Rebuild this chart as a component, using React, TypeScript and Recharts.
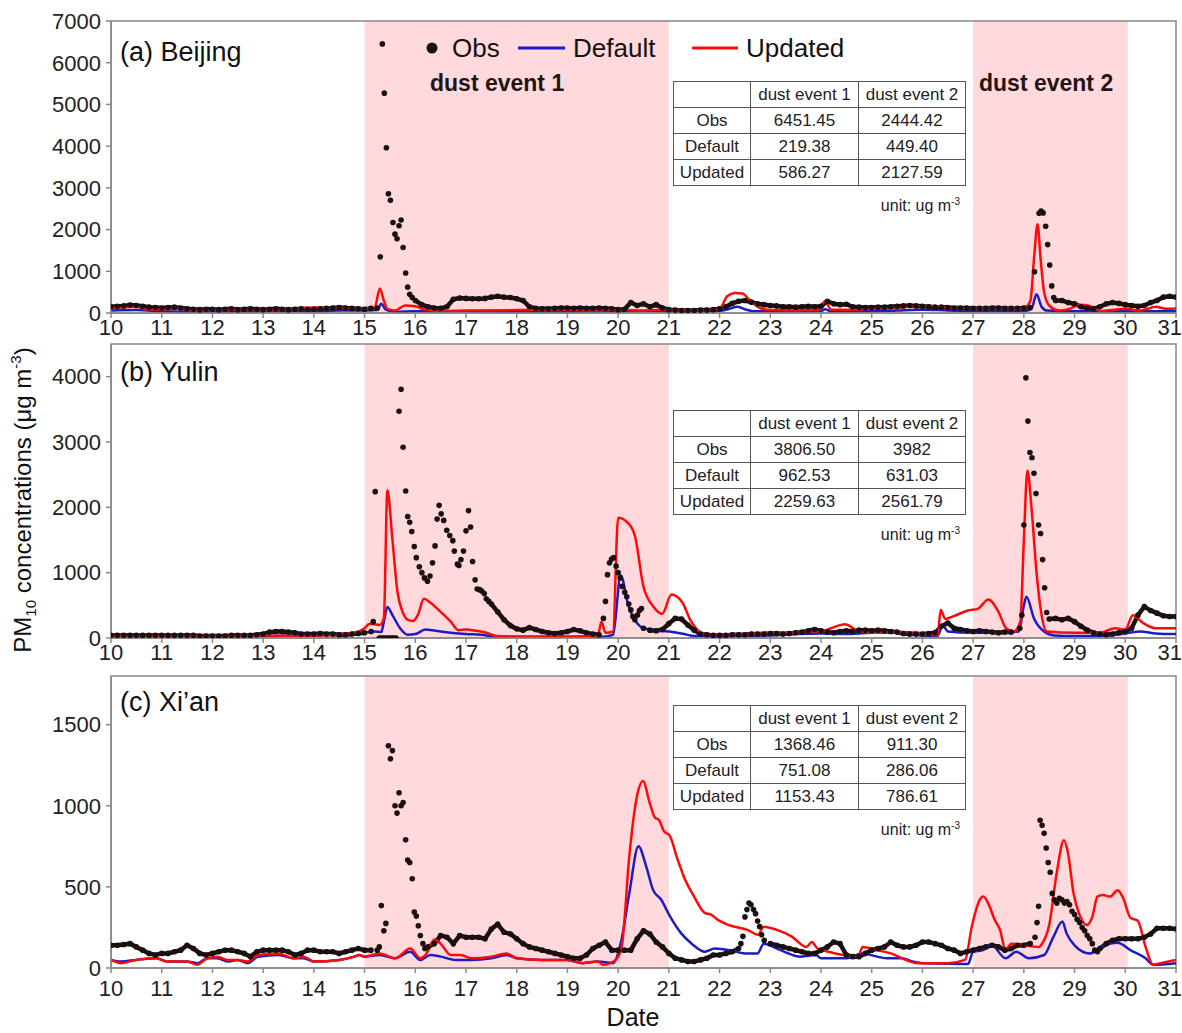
import React from "react";
import { ComposedChart, Line, Scatter, XAxis, YAxis, ReferenceArea } from "recharts";

type Pt = [number, number];

const days = [10, 11, 12, 13, 14, 15, 16, 17, 18, 19, 20, 21, 22, 23, 24, 25, 26, 27, 28, 29, 30, 31];
const eventCols = ["dust event 1", "dust event 2"];

// ---- (a) Beijing ----
// obs sampled every 3 h from day 10 (null where the hourly peak list takes over)
const bjObsBase: (number | null)[] = [
  150, 160, 170, 190, 180, 160, 140, 130,
  120, 130, 140, 120, 100, 90, 80, 90,
  90, 80, 90, 100, 80, 90, 100, 90,
  80, 90, 100, 90, 80, 90, 100, 90,
  90, 100, 110, 120, 130, 120, 110, 100,
  90, 110, null, null, null, null, null, null,
  300, 200, 150, 120, 110, 150, 330, 360,
  350, 340, 340, 350, 380, 400, 380, 370,
  340, 300, 150, 110, 100, 100, 110, 120,
  120, 110, 120, 110, 110, 120, 110, 100,
  80, 90, 250, 180, 220, 150, 200, 120,
  80, 70, 60, 60, 60, 70, 70, 80,
  100, 150, 230, 280, 300, 260, 220, 200,
  180, 170, 150, 150, 140, 150, 160, 150,
  160, 280, 220, 200, 210, 150, 140, 130,
  130, 140, 140, 150, 160, 170, 180, 170,
  160, 150, 140, 140, 130, 120, 120, 120,
  110, 110, 110, 120, 120, 110, 110, 110,
  120, 130, null, null, null, 300, 300, 250,
  220, 150, 120, 100, 150, 220, 250, 230,
  200, 180, 160, 180, 250, 300, 380, 400,
  380,
];
const bjObsPeak: Pt[] = [
  [15.25, 120], [15.31, 1346], [15.35, 6451], [15.39, 5270], [15.43, 3960], [15.47, 2860], [15.51, 2700],
  [15.56, 2170], [15.6, 1890], [15.64, 1780], [15.68, 2090], [15.72, 2230], [15.76, 1570], [15.81, 960],
  [15.85, 620], [15.89, 450], [15.94, 370],
  [28.21, 990], [28.3, 2390], [28.34, 2444], [28.38, 2400], [28.43, 2080], [28.47, 1640], [28.51, 1150],
  [28.55, 650], [28.59, 370],
];
const bjDefault: Pt[] = [
  [10, 60], [10.5, 70], [11, 40], [11.5, 30], [12, 30], [13, 40], [14, 40], [14.5, 60], [15, 60], [15.25, 70],
  [15.33, 219], [15.42, 80], [15.6, 30], [16, 40], [17, 40], [18, 30], [19, 30], [20, 40], [20.5, 50], [21, 40],
  [22, 50], [22.2, 100], [22.35, 150], [22.5, 90], [22.7, 40], [23, 40], [23.5, 40], [24, 50], [24.08, 90],
  [24.2, 40], [25, 40], [25.5, 60], [26, 80], [26.5, 60], [27, 50], [28, 50], [28.15, 100], [28.25, 449],
  [28.35, 150], [28.45, 60], [29, 40], [30, 40], [30.5, 40], [31, 40],
];
const bjUpdated: Pt[] = [
  [10, 140], [10.25, 140], [10.5, 150], [10.7, 90], [11, 80], [11.4, 110], [11.6, 60], [12, 70], [12.5, 80],
  [13, 70], [13.5, 80], [14, 130], [14.5, 120], [15, 110], [15.2, 130], [15.3, 586], [15.38, 300], [15.45, 100],
  [15.6, 60], [15.8, 180], [16, 160], [16.2, 80], [16.5, 50], [17, 60], [18, 70], [19, 70], [19.5, 60], [20, 70],
  [20.5, 60], [21, 80], [21.5, 60], [22, 100], [22.15, 400], [22.3, 480], [22.45, 470], [22.6, 300], [22.8, 120],
  [23, 70], [23.5, 60], [23.95, 70], [24.08, 280], [24.2, 80], [24.5, 80], [25, 100], [25.5, 120], [25.9, 170],
  [26.3, 160], [26.5, 120], [27, 110], [27.5, 110], [28, 110], [28.13, 300], [28.2, 1300], [28.27, 2128],
  [28.33, 1300], [28.4, 500], [28.5, 180], [28.7, 60], [28.9, 100], [29.1, 200], [29.3, 170], [29.5, 50],
  [29.8, 80], [30, 100], [30.3, 60], [30.6, 150], [30.8, 100], [31, 110],
];
const bjTable = [
  ["Obs", "6451.45", "2444.42"],
  ["Default", "219.38", "449.40"],
  ["Updated", "586.27", "2127.59"],
];

// ---- (b) Yulin ----
const ylObsBase: (number | null)[] = [
  40, 40, 40, 40, 40, 40, 40, 40,
  40, 40, 40, 40, 40, 40, 30, 30,
  30, 30, 30, 40, 40, 40, 40, 50,
  60, 90, 100, 100, 90, 80, 60, 60,
  60, 70, 60, 60, 50, 50, 60, 70,
  80, null, null, null, null, null, null, null,
  null, null, null, null, null, null, null, null,
  null, null, null, null, 520, 400, 280, 190,
  140, 120, 160, 130, 100, 80, 70, 80,
  100, 130, 110, 80, 60, 50, null, null,
  null, null, null, null, null, 120, 110, 130,
  220, 300, 290, 200, 120, 60, 50, 40,
  40, 40, 50, 50, 50, 60, 60, 60,
  70, 70, 60, 70, 80, 90, 110, 130,
  110, 90, 80, 100, 110, 100, 120, 120,
  110, 120, 110, 100, 90, 70, 60, 60,
  60, 70, 80, 180, 230, 150, 130, 110,
  100, 110, 100, 90, 80, 90, 90, null,
  null, null, null, null, 290, 300, 280, 300,
  250, 180, 120, 80, 60, 50, 60, 80,
  100, 150, 350, 480, 420, 380, 340, 330,
  330,
];
const ylObsPeak: Pt[] = [
  [15.13, 100], [15.17, 250], [15.21, 2240], [15.29, 0], [15.33, 0], [15.37, 0], [15.42, 0], [15.46, 0],
  [15.5, 0], [15.54, 0], [15.58, 0], [15.62, 0], [15.68, 3470], [15.72, 3807], [15.76, 2920], [15.81, 2250],
  [15.85, 1860], [15.89, 1770], [15.93, 1630], [15.98, 1400], [16.02, 1230], [16.08, 1090], [16.13, 1000],
  [16.18, 920], [16.24, 870], [16.29, 950], [16.34, 1150], [16.39, 1410], [16.43, 1820], [16.47, 2030],
  [16.51, 1900], [16.56, 1800], [16.62, 1650], [16.68, 1570], [16.74, 1490], [16.77, 1330], [16.83, 1130],
  [16.86, 1110], [16.9, 1200], [16.95, 1330], [17.0, 1640], [17.05, 1950], [17.09, 1700], [17.13, 1170],
  [17.18, 890], [17.22, 750], [17.27, 740], [17.31, 720], [17.36, 680], [17.4, 600], [17.45, 560],
  [19.71, 300], [19.75, 560], [19.79, 970], [19.83, 1150], [19.87, 1210], [19.91, 1230], [19.96, 1100],
  [20.0, 1000], [20.04, 920], [20.08, 790], [20.13, 700], [20.17, 630], [20.21, 520], [20.25, 430],
  [20.29, 330], [20.33, 280], [20.38, 350], [20.42, 420], [20.46, 450], [20.5, 150],
  [27.92, 150], [27.96, 350], [28.0, 1730], [28.04, 3982], [28.08, 3320], [28.12, 2840], [28.16, 2760],
  [28.2, 2520], [28.24, 2210], [28.29, 1730], [28.33, 1600], [28.37, 1200], [28.41, 770], [28.45, 390],
];
const ylDefault: Pt[] = [
  [10, 30], [11, 30], [12, 30], [13, 30], [13.5, 40], [13.7, 80], [13.85, 50], [14.2, 60], [14.5, 60], [15, 80],
  [15.2, 100], [15.33, 90], [15.38, 250], [15.45, 475], [15.55, 350], [15.7, 150], [15.85, 50], [16, 60],
  [16.2, 130], [16.4, 110], [16.7, 80], [17, 60], [17.3, 50], [17.6, 20], [18, 20], [19, 20], [19.7, 20],
  [19.9, 50], [20.05, 962], [20.2, 500], [20.35, 250], [20.5, 150], [20.7, 120], [21, 100], [21.3, 60],
  [21.5, 30], [22, 30], [23, 40], [23.5, 60], [24, 70], [24.5, 60], [25, 80], [25.5, 80], [26, 40], [26.3, 30],
  [26.4, 200], [26.5, 100], [27, 80], [27.5, 80], [27.9, 100], [28, 500], [28.05, 631], [28.2, 300],
  [28.4, 100], [28.6, 40], [29, 30], [29.5, 30], [30, 70], [30.3, 100], [30.6, 70], [31, 60],
];
const ylUpdated: Pt[] = [
  [10, 30], [11, 30], [12, 30], [13, 40], [14, 30], [14.8, 80], [15, 150], [15.1, 220], [15.3, 200],
  [15.38, 300], [15.45, 2260], [15.55, 1500], [15.65, 700], [15.75, 400], [15.85, 280], [15.95, 260],
  [16.05, 350], [16.17, 600], [16.3, 540], [16.5, 400], [16.7, 250], [16.85, 120], [17, 130], [17.2, 110],
  [17.4, 80], [17.6, 30], [18, 20], [19, 20], [19.6, 30], [19.67, 250], [19.75, 80], [19.9, 100],
  [20.0, 1840], [20.18, 1770], [20.33, 1565], [20.5, 785], [20.7, 475], [20.87, 370], [21.05, 665],
  [21.27, 540], [21.42, 280], [21.6, 100], [21.78, 50], [22, 50], [22.5, 60], [23, 80], [23.3, 80],
  [23.7, 100], [24, 100], [24.2, 150], [24.47, 210], [24.7, 120], [24.8, 100], [25, 80], [25.5, 90],
  [26, 70], [26.3, 40], [26.36, 430], [26.45, 290], [26.6, 330], [26.9, 420], [27.1, 450], [27.3, 590],
  [27.5, 400], [27.65, 150], [27.8, 100], [27.93, 250], [28.0, 1500], [28.07, 2562], [28.15, 2000],
  [28.25, 1000], [28.35, 350], [28.45, 100], [29, 80], [29.5, 80], [29.8, 150], [30, 130], [30.15, 350],
  [30.35, 230], [30.6, 150], [31, 150],
];
const ylTable = [
  ["Obs", "3806.50", "3982"],
  ["Default", "962.53", "631.03"],
  ["Updated", "2259.63", "2561.79"],
];

// ---- (c) Xi'an ----
const xaObsBase: (number | null)[] = [
  140, 140, 145, 150, 130, 110, 90, 80,
  90, 90, 100, 110, 140, 120, 90, 80,
  90, 100, 110, 110, 100, 90, 70, 100,
  110, 110, 110, 110, 100, 80, 90, 110,
  110, 100, 100, 100, 90, 100, 110, 120,
  110, 110, null, null, null, null, null, null,
  null, null, 130, 150, 200, 190, 150, 200,
  190, 190, 190, 180, 240, 270, 220, 210,
  180, 150, 130, 120, 110, 100, 90, 80,
  70, 60, 60, 80, 120, 140, 160, 110,
  110, 110, 110, 180, 230, 210, 160, 130,
  90, 60, 50, 40, 40, 50, 60, 80,
  80, 90, 100, 120, null, null, null, null,
  150, 140, 130, 120, 110, 100, 90, 90,
  110, 130, 160, 150, 80, 70, 70, 90,
  110, 120, 130, 160, 140, 130, 130, 140,
  160, 160, 150, 140, 120, 110, 90, 100,
  110, 120, 130, 140, 130, 110, 120, 140,
  140, 150, null, null, null, null, null, null,
  null, null, null, null, 120, 150, 170, 180,
  180, 180, 180, 190, 210, 245, 245, 245,
  240,
];
const xaObsPeak: Pt[] = [
  [15.25, 110], [15.29, 130], [15.33, 385], [15.38, 230], [15.42, 275], [15.47, 1370], [15.51, 1290],
  [15.55, 1340], [15.6, 1000], [15.64, 955], [15.68, 1080], [15.72, 1000], [15.76, 1020], [15.81, 790],
  [15.85, 665], [15.89, 650], [15.94, 550], [15.98, 345], [16.02, 320], [16.06, 260], [16.1, 200],
  [16.15, 150], [16.19, 120],
  [22.42, 150], [22.46, 195], [22.5, 315], [22.54, 360], [22.58, 400], [22.62, 390], [22.67, 360],
  [22.71, 335], [22.75, 290], [22.79, 255], [22.83, 205], [22.88, 170],
  [28.22, 190], [28.26, 280], [28.29, 380], [28.32, 911], [28.36, 880], [28.4, 830], [28.44, 740],
  [28.48, 650], [28.52, 590], [28.56, 460], [28.6, 420], [28.65, 400], [28.7, 430], [28.75, 420],
  [28.8, 400], [28.85, 410], [28.9, 390], [28.95, 350], [29.0, 330], [29.05, 300], [29.1, 280],
  [29.15, 250], [29.2, 230], [29.25, 200], [29.3, 180], [29.35, 150], [29.4, 110], [29.45, 100],
];
const xaDefault: Pt[] = [
  [10, 50], [10.2, 40], [10.5, 50], [10.9, 60], [11.1, 40], [11.5, 40], [11.7, 30], [11.9, 60], [12.1, 60],
  [12.3, 40], [12.5, 50], [12.7, 30], [12.9, 70], [13.3, 80], [13.6, 60], [13.8, 60], [14, 40], [14.5, 50],
  [14.8, 70], [14.9, 80], [15, 70], [15.3, 80], [15.6, 60], [15.9, 100], [16.1, 50], [16.3, 80], [16.5, 70],
  [16.8, 50], [17.1, 50], [17.5, 60], [17.8, 80], [18, 60], [18.5, 50], [19, 50], [19.3, 30], [19.6, 40],
  [19.9, 30], [20.05, 150], [20.22, 460], [20.4, 751], [20.55, 630], [20.69, 480], [20.84, 425],
  [21.02, 320], [21.24, 215], [21.45, 150], [21.71, 100], [21.9, 120], [22.2, 110], [22.5, 90], [22.75, 90],
  [22.87, 150], [23.2, 110], [23.6, 70], [23.9, 80], [24, 60], [24.5, 60], [24.8, 90], [25.3, 60],
  [25.6, 60], [25.8, 40], [26, 30], [26.9, 25], [27.0, 100], [27.2, 110], [27.35, 145], [27.64, 60],
  [27.85, 100], [28.1, 60], [28.4, 80], [28.58, 190], [28.76, 286], [28.84, 215], [29, 140], [29.3, 90],
  [29.6, 140], [29.85, 155], [30.1, 110], [30.4, 60], [30.55, 20], [31, 30],
];
const xaUpdated: Pt[] = [
  [10, 50], [10.2, 30], [10.5, 50], [10.9, 60], [11.1, 40], [11.5, 40], [11.7, 20], [11.9, 60], [12.1, 70],
  [12.3, 50], [12.5, 50], [12.7, 40], [12.9, 80], [13.3, 90], [13.6, 60], [13.8, 70], [14, 40], [14.5, 50],
  [14.8, 70], [14.9, 80], [15, 70], [15.3, 90], [15.6, 60], [15.9, 120], [16.1, 60], [16.2, 80], [16.38, 175],
  [16.5, 150], [16.7, 80], [16.9, 80], [17.1, 60], [17.5, 70], [17.8, 90], [18, 60], [18.5, 50], [19, 50],
  [19.3, 30], [19.6, 40], [19.7, 20], [19.95, 50], [20.07, 130], [20.22, 690], [20.36, 1040], [20.49, 1153],
  [20.62, 1020], [20.73, 925], [20.8, 915], [20.9, 845], [21.02, 815], [21.16, 680], [21.3, 560],
  [21.49, 445], [21.71, 340], [21.82, 330], [22, 290], [22.18, 265], [22.55, 235], [22.76, 205],
  [22.87, 255], [23.13, 235], [23.42, 195], [23.71, 130], [23.82, 160], [23.93, 120], [24.15, 100],
  [24.44, 80], [24.73, 70], [24.82, 130], [25.1, 110], [25.38, 90], [25.67, 50], [25.9, 30], [26.5, 30],
  [26.84, 50], [26.98, 265], [27.13, 420], [27.2, 440], [27.31, 390], [27.42, 300], [27.53, 235],
  [27.64, 110], [27.75, 150], [28, 140], [28.3, 130], [28.36, 150], [28.5, 265], [28.65, 590], [28.79, 787],
  [28.87, 710], [28.98, 460], [29.09, 335], [29.24, 265], [29.35, 315], [29.45, 440], [29.56, 450],
  [29.7, 440], [29.85, 480], [29.96, 430], [30.1, 310], [30.25, 290], [30.4, 130], [30.55, 20], [30.7, 30],
  [31, 50],
];
const xaTable = [
  ["Obs", "1368.46", "911.30"],
  ["Default", "751.08", "286.06"],
  ["Updated", "1153.43", "786.61"],
];

const OBS = "#1a1010";
const BLUE = "#1c1cc4";
const RED = "#ff0a0a";
const PINK = "#ffd9dc";
const AXIS = "#888";
const FONT = "'Liberation Sans', Arial, sans-serif";

const toPts = (pts: Pt[]) => pts.map(([t, v]) => ({ t, v }));
// the dense 3-hourly obs run, nulls kept so the thick trace breaks where hourly dots take over
const baseTrace = (base: (number | null)[]) => base.map((v, i) => ({ t: 10 + i / 8, v }));
const buildObs = (base: (number | null)[], peak: Pt[]) =>
  baseTrace(base)
    .filter((p) => p.v !== null)
    .concat(toPts(peak))
    .sort((a, b) => a.t - b.t);

function DayTick(props: any) {
  const { x, y, payload } = props;
  const last = payload.value === 31;
  return (
    <text x={last ? x + 6 : x} y={y} dy="0.71em" textAnchor={last ? "end" : "middle"} fontSize={22} fill="#222">
      {payload.value}
    </text>
  );
}

const ObsDot = (p: any) => <circle cx={p.cx} cy={p.cy} r={2.8} fill={OBS} />;

function Panel({ top, padTop, plotH, yMax, yTicks, base, peak, def, upd, axisH, tickGap }: any) {
  return (
    <div style={{ position: "absolute", left: 0, top: top - padTop }}>
      <ComposedChart width={1182} height={plotH + axisH + padTop} margin={{ top: padTop, right: 6, bottom: 0, left: 0 }}>
        <XAxis
          type="number"
          dataKey="t"
          domain={[10, 31]}
          ticks={days}
          interval={0}
          allowDataOverflow
          height={axisH}
          tickSize={5}
          tickMargin={tickGap}
          stroke={AXIS}
          strokeWidth={1.5}
          tick={<DayTick />}
        />
        <YAxis
          type="number"
          domain={[0, yMax]}
          ticks={yTicks}
          interval={0}
          allowDataOverflow
          width={111}
          tickSize={5}
          tickMargin={5}
          stroke={AXIS}
          strokeWidth={1.5}
          tick={{ fontSize: 22, fill: "#222" }}
        />
        <ReferenceArea x1={15} x2={21} fill={PINK} fillOpacity={1} stroke="none" />
        <ReferenceArea x1={27} x2={30.05} fill={PINK} fillOpacity={1} stroke="none" />
        <ReferenceArea x1={10} x2={31} y1={0} y2={yMax} fill="none" stroke={AXIS} strokeWidth={1.5} />
        <Line data={baseTrace(base)} dataKey="v" type="linear" stroke={OBS} strokeWidth={4.5} dot={false}
          connectNulls={false} isAnimationActive={false} />
        <Scatter data={buildObs(base, peak)} dataKey="v" shape={ObsDot} isAnimationActive={false} />
        <Line data={toPts(def)} dataKey="v" type="monotone" stroke={BLUE} strokeWidth={2.5} dot={false} isAnimationActive={false} />
        <Line data={toPts(upd)} dataKey="v" type="monotone" stroke={RED} strokeWidth={2.5} dot={false} isAnimationActive={false} />
      </ComposedChart>
    </div>
  );
}

function StatsTable({ top, rows }: { top: number; rows: string[][] }) {
  const cell: React.CSSProperties = { border: "1.5px solid #555", padding: 0, height: 25, textAlign: "center", lineHeight: "25px" };
  return (
    <>
      <table
        style={{
          position: "absolute",
          left: 673,
          top,
          width: 292,
          borderCollapse: "collapse",
          tableLayout: "fixed",
          fontSize: 17,
          color: "#222",
          background: "#fff",
        }}
      >
        <colgroup>
          <col style={{ width: 77 }} />
          <col style={{ width: 108 }} />
          <col style={{ width: 107 }} />
        </colgroup>
        <tbody>
          <tr>
            <td style={cell}></td>
            {eventCols.map((c) => (
              <td key={c} style={cell}>{c}</td>
            ))}
          </tr>
          {rows.map((r) => (
            <tr key={r[0]}>
              {r.map((c, i) => (
                <td key={i} style={cell}>{c}</td>
              ))}
            </tr>
          ))}
        </tbody>
      </table>
      <div style={{ position: "absolute", right: 222, top: top + 111, fontSize: 16, color: "#222", lineHeight: "20px" }}>
        unit: ug m<sup style={{ fontSize: 10 }}>-3</sup>
      </div>
    </>
  );
}

export default function App() {
  return (
    <div style={{ position: "absolute", left: 0, top: 0, width: 1182, height: 1033, background: "#fff", fontFamily: FONT }}>
      <Panel top={21} padTop={16} plotH={292} yMax={7000} yTicks={[0, 1000, 2000, 3000, 4000, 5000, 6000, 7000]}
        axisH={28} tickGap={1} base={bjObsBase} peak={bjObsPeak} def={bjDefault} upd={bjUpdated} />
      <Panel top={344} padTop={2} plotH={294} yMax={4500} yTicks={[0, 1000, 2000, 3000, 4000]}
        axisH={28} tickGap={1} base={ylObsBase} peak={ylObsPeak} def={ylDefault} upd={ylUpdated} />
      <Panel top={676} padTop={2} plotH={292} yMax={1800} yTicks={[0, 500, 1000, 1500]}
        axisH={36} tickGap={7} base={xaObsBase} peak={xaObsPeak} def={xaDefault} upd={xaUpdated} />

      <StatsTable top={81} rows={bjTable} />
      <StatsTable top={410} rows={ylTable} />
      <StatsTable top={705} rows={xaTable} />

      <svg width={1182} height={1033} style={{ position: "absolute", left: 0, top: 0, pointerEvents: "none" }} fontFamily={FONT}>
        <circle cx={432} cy={48} r={5.5} fill={OBS} />
        <text x={452} y={57} fontSize={26} fill="#111">Obs</text>
        <line x1={518} x2={565} y1={48} y2={48} stroke={BLUE} strokeWidth={3} />
        <text x={573} y={57} fontSize={26} fill="#111">Default</text>
        <line x1={692} x2={738} y1={48} y2={48} stroke={RED} strokeWidth={3} />
        <text x={746} y={57} fontSize={26} fill="#111">Updated</text>

        <text x={430} y={91} fontSize={23} fontWeight="bold" fill="#221414">dust event 1</text>
        <text x={979} y={91} fontSize={23} fontWeight="bold" fill="#221414">dust event 2</text>

        <text x={120} y={61} fontSize={27} fill="#111">(a) Beijing</text>
        <text x={120} y={381} fontSize={27} fill="#111">(b) Yulin</text>
        <text x={120} y={711} fontSize={27} fill="#111">(c) Xi’an</text>

        <text transform="translate(31,500) rotate(-90)" textAnchor="middle" fontSize={24} fill="#111">
          PM<tspan fontSize={15} dy={5}>10</tspan>
          <tspan dy={-5}> concentrations (μg m</tspan>
          <tspan fontSize={15} dy={-10}>-3</tspan>
          <tspan dy={10}>)</tspan>
        </text>

        <text x={633} y={1026} textAnchor="middle" fontSize={25} fill="#111">Date</text>
      </svg>
    </div>
  );
}
